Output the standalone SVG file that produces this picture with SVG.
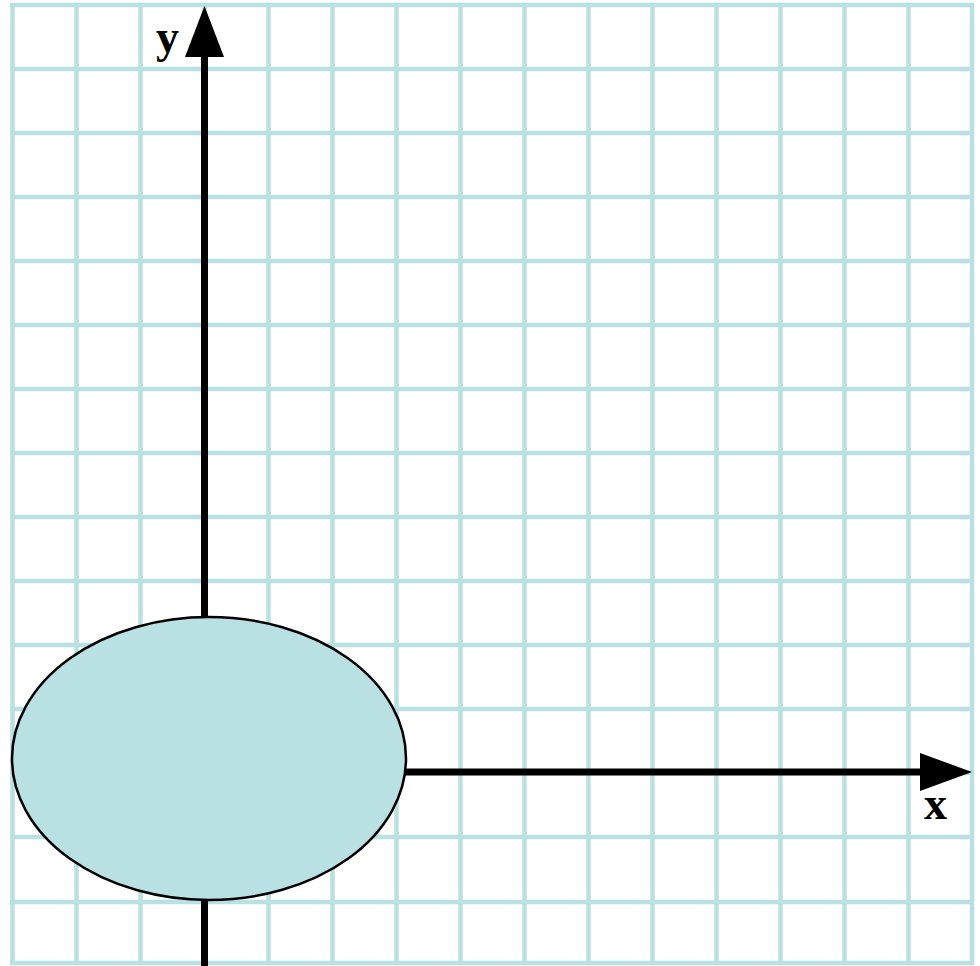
<svg xmlns="http://www.w3.org/2000/svg" width="980" height="966" viewBox="0 0 980 966">
<style>
.grid line{stroke:#b9e0e3;stroke-width:4.5}
.axis{stroke:#000;stroke-width:7}
.lbl{font-family:"Liberation Serif","Times New Roman",serif;font-weight:bold;font-size:46px;fill:#000}
</style>
<rect width="980" height="966" fill="#fff"/>
<g class="grid">
<line x1="12.5" y1="5" x2="12.5" y2="963"/><line x1="76.5" y1="5" x2="76.5" y2="963"/><line x1="140.5" y1="5" x2="140.5" y2="963"/><line x1="204.5" y1="5" x2="204.5" y2="963"/><line x1="268.5" y1="5" x2="268.5" y2="963"/><line x1="332.5" y1="5" x2="332.5" y2="963"/><line x1="396.5" y1="5" x2="396.5" y2="963"/><line x1="460.5" y1="5" x2="460.5" y2="963"/><line x1="524.5" y1="5" x2="524.5" y2="963"/><line x1="588.5" y1="5" x2="588.5" y2="963"/><line x1="652.5" y1="5" x2="652.5" y2="963"/><line x1="716.5" y1="5" x2="716.5" y2="963"/><line x1="780.5" y1="5" x2="780.5" y2="963"/><line x1="844.5" y1="5" x2="844.5" y2="963"/><line x1="908.5" y1="5" x2="908.5" y2="963"/><line x1="972" y1="5" x2="972" y2="963"/>
<line x1="10" y1="5" x2="974" y2="5"/><line x1="10" y1="69" x2="974" y2="69"/><line x1="10" y1="133" x2="974" y2="133"/><line x1="10" y1="197" x2="974" y2="197"/><line x1="10" y1="261" x2="974" y2="261"/><line x1="10" y1="325" x2="974" y2="325"/><line x1="10" y1="389" x2="974" y2="389"/><line x1="10" y1="453" x2="974" y2="453"/><line x1="10" y1="517" x2="974" y2="517"/><line x1="10" y1="581" x2="974" y2="581"/><line x1="10" y1="645" x2="974" y2="645"/><line x1="10" y1="709" x2="974" y2="709"/><line x1="10" y1="773" x2="974" y2="773"/><line x1="10" y1="837" x2="974" y2="837"/><line x1="10" y1="902" x2="974" y2="902"/><line x1="10" y1="963" x2="974" y2="963"/>
</g>
<g id="axes">
<line class="axis" x1="204.5" y1="55" x2="204.5" y2="966"/>
<polygon points="204.5,6 185,57 224,57" fill="#000"/>
<line class="axis" x1="400" y1="772" x2="922" y2="772"/>
<polygon points="972,772 920,753 920,791" fill="#000"/>
</g>
<g id="ellipse">
<ellipse cx="209" cy="758.5" rx="197" ry="141.5" fill="#b9e0e3" stroke="#000" stroke-width="2.5"/>
</g>
<text class="lbl" x="156" y="52">y</text>
<text class="lbl" x="924" y="819">x</text>
</svg>
